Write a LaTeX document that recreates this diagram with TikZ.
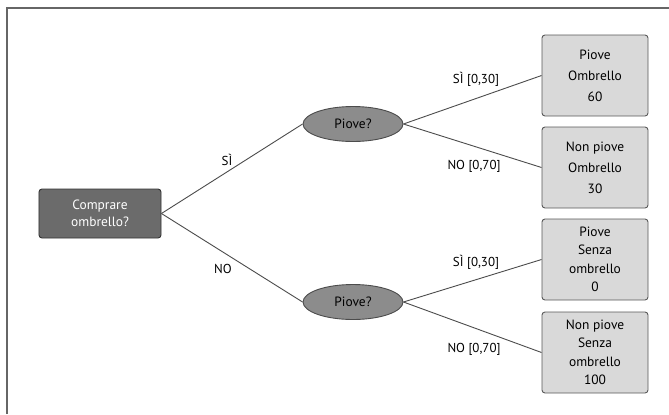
\documentclass[tikz,border=0pt]{standalone}
\usepackage{fontspec}
\setmainfont{PT Sans}
\usetikzlibrary{shapes.geometric}
\begin{document}
\begin{tikzpicture}[x=1bp,y=-1bp,
  every node/.style={font=\fontsize{13.5}{21}\selectfont, inner sep=0pt},
  leaf/.style={draw=black!65, fill=black!15, rounded corners=3bp, minimum width=106bp, minimum height=81bp, align=center, line width=0.9bp},
  chance/.style={ellipse, draw=black!70, fill=black!45, minimum width=100bp, minimum height=35bp, line width=0.9bp},
  decision/.style={draw=black!80, fill=black!58, rounded corners=3bp, minimum width=122bp, minimum height=49bp, align=center, text=white, line width=0.9bp, font=\fontsize{13.5}{17}\selectfont},
  branch/.style={draw=black!70, line width=0.9bp},
  lbl/.style={font=\fontsize{13}{14}\selectfont}]
\useasboundingbox (0,0) rectangle (669,414);
\fill[white] (0,0) rectangle (669,414);
\coordinate (tl) at (7,8);
\coordinate (tr) at (669,8);
\coordinate (bl) at (7,414);
\draw[black!60, line width=1.2bp] (bl) -- (tl) -- (tr);

\node[decision] (d) at (100,213.5) {Comprare\\ombrello?};
\node[chance] (c1) at (353,124) {Piove?};
\node[chance] (c2) at (353,302) {Piove?};
\node[leaf] (l1) at (595,75.5) {Piove\\Ombrello\\60};
\node[leaf] (l2) at (595,167.5) {Non piove\\Ombrello\\30};
\node[leaf, font=\fontsize{13.5}{18.5}\selectfont] (l3) at (595,259.5) {Piove\\Senza\\ombrello\\0};
\node[leaf, font=\fontsize{13.5}{18.5}\selectfont] (l4) at (595,352.5) {Non piove\\Senza\\ombrello\\100};

\draw[branch] (d.east) -- (c1.west);
\draw[branch] (d.east) -- (c2.west);
\draw[branch] (c1.east) -- (l1.west);
\draw[branch] (c1.east) -- (l2.west);
\draw[branch] (c2.east) -- (l3.west);
\draw[branch] (c2.east) -- (l4.west);

\node[lbl] (s1) at (227,160) {SÌ};
\node[lbl] (n1) at (223,269) {NO};
\node[lbl] (s2) at (476,79) {SÌ [0,30]};
\node[lbl] (n2) at (474,166) {NO [0,70]};
\node[lbl] (s3) at (476,262) {SÌ [0,30]};
\node[lbl] (n3) at (474,349) {NO [0,70]};
\end{tikzpicture}
\end{document}
